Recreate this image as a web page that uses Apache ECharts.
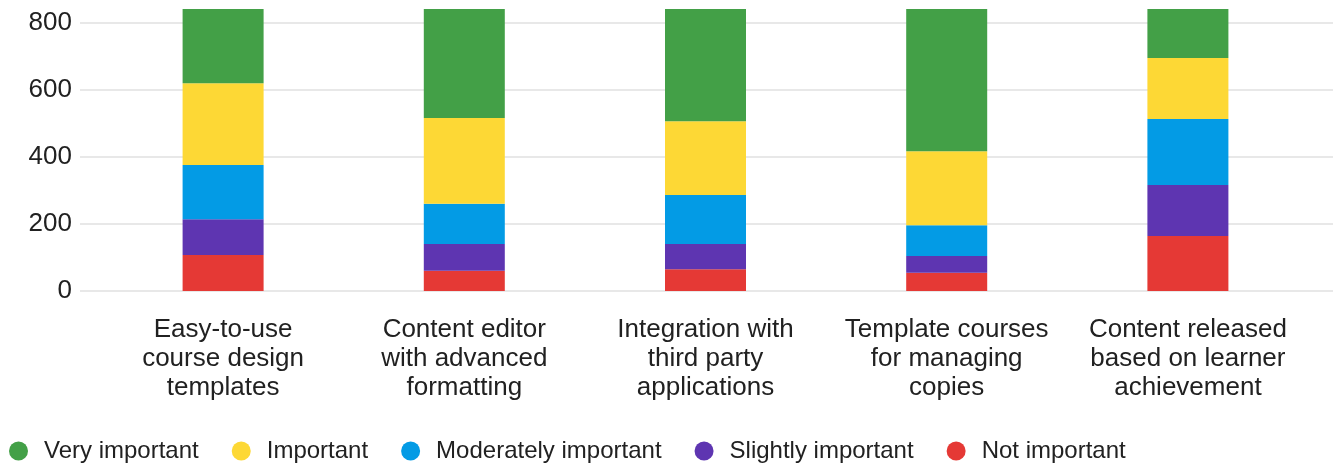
<!DOCTYPE html>
<html>
<head>
  <meta charset="UTF-8">
  <title>Feature importance</title>
  <style>
    html, body { margin: 0; padding: 0; background: #fff; }
    #chart { width: 1336px; height: 468px; }
  </style>
  <script src="https://cdn.jsdelivr.net/npm/echarts@6/dist/echarts.min.js"></script>
</head>
<body>
  <div id="chart"></div>
  <script>
    var categories = [
      'Easy-to-use\ncourse design\ntemplates',
      'Content editor\nwith advanced\nformatting',
      'Integration with\nthird party\napplications',
      'Template courses\nfor managing\ncopies',
      'Content released\nbased on learner\nachievement'
    ];

    // stacked from the bottom up
    var notImportant = [107, 60, 65, 54, 164];
    var slightlyImportant = [107, 80, 75, 50, 152];
    var moderatelyImportant = [161, 120, 146, 92, 196];
    var important = [244, 255, 220, 220, 182];
    var veryImportant = [221, 325, 334, 424, 146];

    var yTicks = [0, 200, 400, 600, 800];

    var chart = echarts.init(document.getElementById('chart'));

    var font = '"Liberation Sans", Arial, sans-serif';

    function bar(name, data, color) {
      return {
        name: name,
        type: 'bar',
        stack: 'all',
        xAxisIndex: 1,
        yAxisIndex: 1,
        barWidth: 81,
        data: data,
        itemStyle: { color: color },
        emphasis: { disabled: true }
      };
    }

    var option = {
      animation: false,
      textStyle: { fontFamily: font },
      // grid 0 carries the gridlines and y labels, grid 1 the bars
      grid: [
        { left: 80, right: 3, top: 9, bottom: 177 },
        { left: 102.5, right: 27.5, top: 9, bottom: 177 }
      ],
      legend: {
        left: 4,
        top: 434,
        itemWidth: 19,
        itemHeight: 19,
        itemGap: 33,
        icon: 'circle',
        data: ['Very important', 'Important', 'Moderately important', 'Slightly important', 'Not important'],
        textStyle: {
          fontFamily: font,
          fontSize: 24,
          color: '#212121',
          padding: [0, 0, 0, 11]
        }
      },
      xAxis: [
        { type: 'category', gridIndex: 0, data: categories, show: false },
        {
          type: 'category',
          gridIndex: 1,
          data: categories,
          axisLine: { show: false },
          axisTick: { show: false },
          axisLabel: {
            interval: 0,
            margin: 24,
            fontFamily: font,
            fontSize: 26,
            lineHeight: 29,
            color: '#212121'
          }
        }
      ],
      yAxis: [
        {
          type: 'value',
          gridIndex: 0,
          min: yTicks[0],
          max: 840,
          interval: 200,
          axisLine: { show: false },
          axisTick: { show: false },
          axisLabel: {
            margin: 8,
            fontFamily: font,
            fontSize: 26,
            color: '#212121',
            showMaxLabel: false
          },
          splitLine: {
            showMaxLine: false,
            lineStyle: { color: '#e8e8e8', width: 2 }
          }
        },
        {
          type: 'value',
          gridIndex: 1,
          min: 0,
          max: 840,
          show: false,
          splitLine: { show: false }
        }
      ],
      series: [
        bar('Not important', notImportant, '#e53935'),
        bar('Slightly important', slightlyImportant, '#5e35b1'),
        bar('Moderately important', moderatelyImportant, '#039be5'),
        bar('Important', important, '#fdd835'),
        bar('Very important', veryImportant, '#43a047')
      ]
    };

    chart.setOption(option);
  </script>
</body>
</html>
